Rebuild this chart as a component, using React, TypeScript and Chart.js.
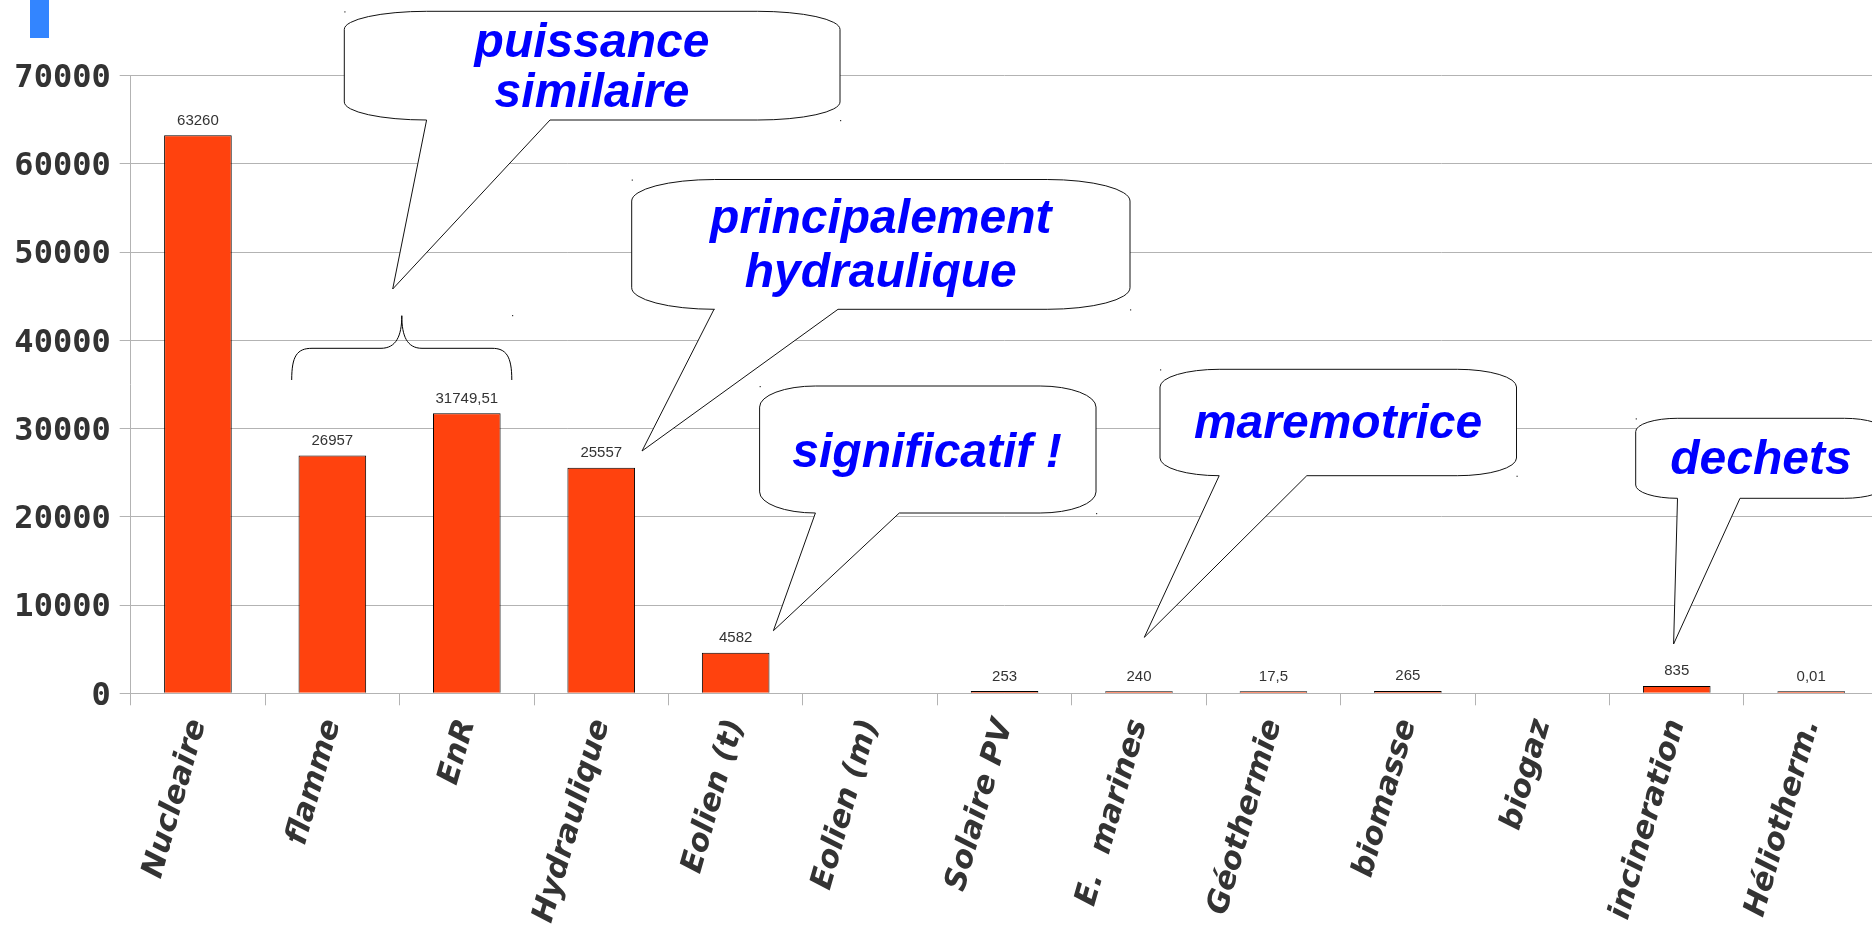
import React, { useEffect, useRef } from 'react';
import { Chart, registerables } from 'chart.js';

Chart.register(...registerables);

// ---- data ----
const categories = [
  'Nucleaire', 'flamme', 'EnR', 'Hydraulique', 'Eolien (t)', 'Eolien (m)',
  'Solaire PV', 'E.  marines', 'Géothermie', 'biomasse', 'biogaz', 'incineration', 'Héliotherm.',
];
const puissance: (number | null)[] = [
  63260, 26957, 31749.51, 25557, 4582, null, 253, 240, 17.5, 265, null, 835, 0.01,
];
const yMin = 0;
const yMax = 70000;
const yStep = 10000;

const calloutTexts: string[][] = [
  ['puissance', 'similaire'],
  ['principalement', 'hydraulique'],
  ['significatif !'],
  ['maremotrice'],
  ['dechets'],
];

// ---- annotation layout (pixels) ----
const CALLOUT_LAYOUT = [
  { l: 344.3, t: 11.3, r: 840, b: 120, bx1: 426.6, bx2: 550, tx: 392.7, ty: 289, cx: 592, base: [56.7, 106.7] },
  { l: 631.7, t: 179.5, r: 1130, b: 309.3, bx1: 714, bx2: 838, tx: 642, ty: 451, cx: 880.8, base: [233.3, 287.3] },
  { l: 759.6, t: 386, r: 1096, b: 513, bx1: 815.4, bx2: 899.3, tx: 773.4, ty: 630.7, cx: 927, base: [466.7] },
  { l: 1160, t: 369.3, r: 1516.5, b: 475.7, bx1: 1219.2, bx2: 1306.8, tx: 1144.3, ty: 637.3, cx: 1338, base: [438.3] },
  { l: 1635.7, t: 418.3, r: 1886, b: 498.3, bx1: 1677.5, bx2: 1740, tx: 1673.6, ty: 644, cx: 1761, base: [474] },
];

const fmt = (v: number) => String(v).replace('.', ',');

function bubblePath(ctx: CanvasRenderingContext2D, c: any) {
  const { l, t, r, b, bx1, bx2, tx, ty } = c;
  const w = r - l, h = b - t;
  const rx = 0.166 * w, ry = 0.166 * h;
  ctx.beginPath();
  ctx.moveTo(l + rx, t);
  ctx.lineTo(r - rx, t);
  ctx.ellipse(r - rx, t + ry, rx, ry, 0, -Math.PI / 2, 0);
  ctx.lineTo(r, b - ry);
  ctx.ellipse(r - rx, b - ry, rx, ry, 0, 0, Math.PI / 2);
  ctx.lineTo(bx2, b);
  ctx.lineTo(tx, ty);
  ctx.lineTo(bx1, b);
  ctx.lineTo(l + rx, b);
  ctx.ellipse(l + rx, b - ry, rx, ry, 0, Math.PI / 2, Math.PI);
  ctx.lineTo(l, t + ry);
  ctx.ellipse(l + rx, t + ry, rx, ry, 0, Math.PI, 1.5 * Math.PI);
  ctx.closePath();
}

const decorPlugin = {
  id: 'decor',
  afterDatasetsDraw(chart: any) {
    const ctx: CanvasRenderingContext2D = chart.ctx;
    const meta = chart.getDatasetMeta(0);
    ctx.save();
    ctx.font = '15px "Liberation Sans", Arial, sans-serif';
    ctx.fillStyle = '#333333';
    ctx.textAlign = 'center';
    ctx.textBaseline = 'alphabetic';
    meta.data.forEach((el: any, i: number) => {
      const v = puissance[i];
      if (v === null || v === undefined) return;
      ctx.fillText(fmt(v), el.x, el.y - 10.5);
    });
    ctx.restore();
  },
  afterDraw(chart: any) {
    const ctx: CanvasRenderingContext2D = chart.ctx;
    ctx.save();
    // blue marker at top-left
    ctx.fillStyle = '#3385ff';
    ctx.fillRect(30, 0, 19, 38);

    // brace
    ctx.strokeStyle = '#000000';
    ctx.lineWidth = 1;
    ctx.beginPath();
    ctx.moveTo(291.7, 380);
    ctx.bezierCurveTo(291.7, 356, 297, 348.3, 312, 348.3);
    ctx.lineTo(381, 348.3);
    ctx.bezierCurveTo(396, 348.3, 401.8, 336, 401.8, 315.7);
    ctx.bezierCurveTo(401.8, 336, 407, 348.3, 422, 348.3);
    ctx.lineTo(492, 348.3);
    ctx.bezierCurveTo(506, 348.3, 511.8, 356, 511.8, 380);
    ctx.stroke();
    ctx.fillStyle = '#333333';
    ctx.fillRect(512, 315, 1.2, 1.2);

    // callouts
    CALLOUT_LAYOUT.forEach((c, i) => {
      bubblePath(ctx, c);
      ctx.fillStyle = '#ffffff';
      ctx.fill();
      ctx.strokeStyle = '#111111';
      ctx.lineWidth = 1;
      ctx.stroke();
      ctx.fillStyle = '#333333';
      ctx.fillRect(c.l, c.t, 1.2, 1.2);
      ctx.fillRect(c.r, c.b, 1.2, 1.2);
      ctx.fillStyle = '#0000ff';
      ctx.font = 'italic bold 48px "Liberation Sans", Arial, sans-serif';
      ctx.textAlign = 'center';
      ctx.textBaseline = 'alphabetic';
      calloutTexts[i].forEach((line, j) => {
        ctx.fillText(line, c.cx, c.base[j]);
      });
    });
    ctx.restore();
  },
};

export default function App() {
  const ref = useRef<HTMLCanvasElement | null>(null);

  useEffect(() => {
    if (!ref.current) return;
    const chart = new Chart(ref.current, {
      type: 'bar',
      data: {
        labels: categories,
        datasets: [
          {
            data: puissance,
            backgroundColor: '#ff420e',
            borderColor: '#000000',
            borderWidth: 1,
            borderSkipped: 'start',
            minBarLength: 2,
            categoryPercentage: 1,
            barPercentage: 0.503,
          },
        ],
      },
      options: {
        responsive: false,
        animation: false,
        devicePixelRatio: 1,
        layout: { padding: { top: 75.7, right: 1.6, left: 0, bottom: 0 } },
        plugins: {
          legend: { display: false },
          tooltip: { enabled: false },
        },
        scales: {
          x: {
            grid: {
              display: true,
              drawOnChartArea: false,
              drawTicks: true,
              tickLength: 12,
              color: '#b3b3b3',
              offset: true,
            },
            border: { display: true, color: '#b3b3b3' },
            ticks: {
              autoSkip: false,
              maxRotation: 74,
              minRotation: 74,
              padding: 10,
              color: '#333333',
              font: { family: '"DejaVu Sans"', size: 30.5, weight: 'bold', style: 'italic' },
            },
            afterFit: (s: any) => { s.height = 925 - 693.3; },
          },
          y: {
            min: yMin,
            max: yMax,
            grid: { color: '#b3b3b3', tickLength: 11, drawTicks: true },
            border: { display: true, color: '#b3b3b3' },
            ticks: {
              stepSize: yStep,
              padding: 9,
              labelOffset: 3,
              color: '#333333',
              font: { family: '"DejaVu Sans Mono"', size: 32, weight: 'bold' },
              callback: (v: any) => String(v),
            },
            afterFit: (s: any) => { s.width = 130.7; },
          },
        },
      },
      plugins: [decorPlugin],
    } as any);
    return () => chart.destroy();
  }, []);

  return (
    <div style={{ position: 'fixed', left: 0, top: 0, width: 1872, height: 925, overflow: 'hidden', background: '#ffffff' }}>
      <canvas ref={ref} width={1880} height={925} style={{ display: 'block', width: 1880, height: 925 }} />
    </div>
  );
}
